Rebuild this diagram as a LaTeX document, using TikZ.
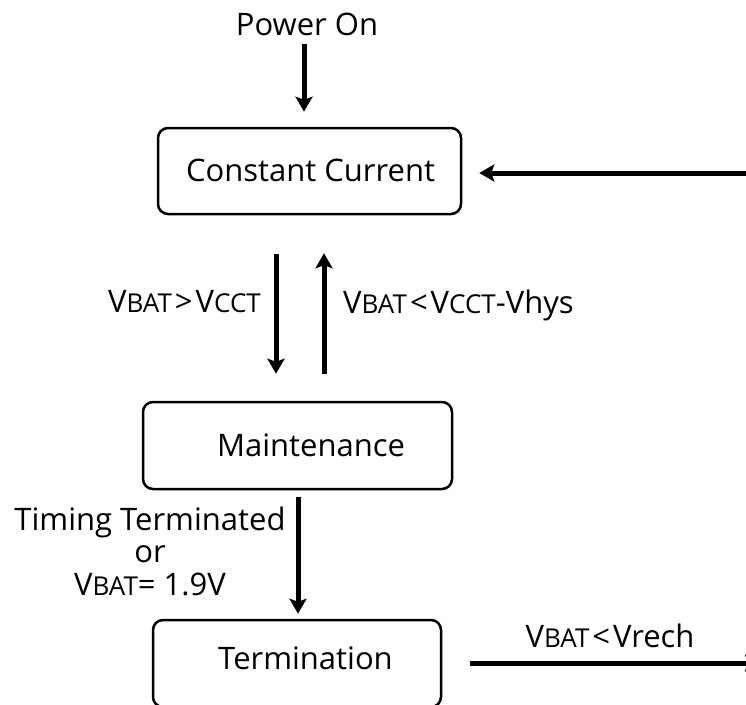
\documentclass[tikz,border=0pt]{standalone}
\usepackage{fontspec}
\setmainfont{Open Sans}
\usetikzlibrary{arrows.meta}
\newcommand{\sm}[1]{{\fontsize{26}{30}\selectfont #1}}
\newcommand{\gap}{\hspace{3pt}}
\begin{document}
\begin{tikzpicture}[x=1pt,y=-1pt,
  box/.style={draw, line width=2.5pt, rounded corners=10pt, inner sep=0pt},
  txt/.style={font=\fontsize{31}{32.5}\selectfont, inner sep=0pt},
  arr/.style={line width=5pt, -{Stealth[width=17pt,length=15pt,inset=3pt]}}]
\clip (0,0) rectangle (746,704);
\fill[white] (0,0) rectangle (746,704);
% boxes
\node[box, minimum width=303pt, minimum height=86pt] (cc) at (309.5,171) {};
\node[box, minimum width=309pt, minimum height=87pt] (mt) at (297.5,445.5) {};
\node[box, minimum width=288pt, minimum height=87pt] (tm) at (297,663.5) {};
% texts
\node[txt] (pon) at (307,24) {Power On};
\node[txt] (cct) at (310.5,170) {Constant Current};
\node[txt] (mtt) at (311,445) {Maintenance};
\node[txt] (tmt) at (305.5,658) {Termination};
\node[txt, anchor=east] (l1) at (261,302) {V\sm{BAT}\gap>\gap V\sm{CCT}};
\node[txt, anchor=west] (l2) at (343,305) {V\sm{BAT}\gap<\gap V\sm{CCT}-Vhys};
\node[txt, align=center] (l3) at (150,551) {Timing Terminated\\or\\V\sm{BAT}= 1.9V};
\node[txt] (l4) at (610,636) {V\sm{BAT}\gap<\gap Vrech};
% free ends
\coordinate (rin) at (760,173);
\coordinate (rout) at (760,663);
% connectors
\draw[arr, shorten <=8pt, shorten >=15pt] ([xshift=-3pt]pon.south) -- ([xshift=-5.5pt]cc.north);
\draw[arr, shorten <=39pt, shorten >=27pt] ([xshift=-33.5pt]cc.south) -- ([xshift=-21.5pt]mt.north);
\draw[arr, shorten <=27pt, shorten >=38pt] ([xshift=26.5pt]mt.north) -- ([xshift=14.5pt]cc.south);
\draw[arr, shorten <=7pt, shorten >=5pt] ([xshift=0.5pt]mt.south) -- ([xshift=1pt]tm.north);
\draw[arr, shorten >=17pt] (rin) -- (cc.east |- rin);
\draw[arr, shorten <=28pt] (tm.east |- rout) -- (rout);
\end{tikzpicture}
\end{document}
